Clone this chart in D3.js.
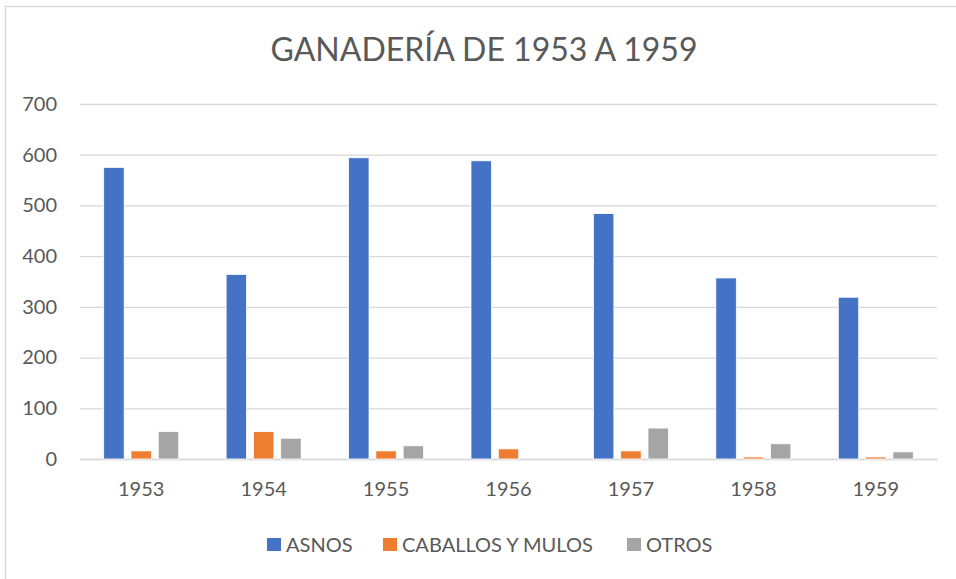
<!DOCTYPE html>
<html>
<head>
<meta charset="utf-8">
<script src="https://cdn.jsdelivr.net/npm/d3@7"></script>
<style>
  body { margin: 0; background: #fff; }
  text { font-family: Lato, "Open Sans", sans-serif; fill: #595959; }
</style>
</head>
<body>
<div id="chart"></div>
<script>
var years = ["1953", "1954", "1955", "1956", "1957", "1958", "1959"];
var series = ["ASNOS", "CABALLOS Y MULOS", "OTROS"];
var asnos = [575, 364, 594, 588, 484, 357, 319];
var caballos = [16, 54, 16, 20, 16, 4, 4];
var otros = [54, 41, 26, 0, 61, 30, 14];
var yTicks = [0, 100, 200, 300, 400, 500, 600, 700];
var colors = ["#4472c4", "#ed7d31", "#a5a5a5"];

var data = years.map(function (y, i) {
  return { year: y, values: [asnos[i], caballos[i], otros[i]] };
});

// set the dimensions and margins of the graph
var W = 956, H = 579;
var margin = {top: 104, right: 19, bottom: 120, left: 80},
  width = W - margin.left - margin.right,
  height = H - margin.top - margin.bottom;

var root = d3.select("#chart")
  .append("svg")
    .attr("width", W)
    .attr("height", H);

// chart frame
root.append("rect")
  .attr("x", 5.5).attr("y", 6.5)
  .attr("width", W).attr("height", H)
  .style("fill", "none")
  .style("stroke", "#d9d9d9")
  .style("stroke-width", 1.5);

root.append("text")
  .attr("x", 484).attr("y", 61)
  .attr("text-anchor", "middle")
  .style("font-size", "32px")
  .text("GANADERÍA DE 1953 A 1959");

var svg = root.append("g")
  .attr("transform", "translate(" + margin.left + "," + margin.top + ")");

var y = d3.scaleLinear()
  .domain([0, 700])
  .range([height, 0]);

var x0 = d3.scaleBand()
  .domain(years)
  .range([0, width])
  .paddingInner(0.387)
  .paddingOuter(0.1935);

var x1 = d3.scaleBand()
  .domain(d3.range(series.length))
  .range([0, x0.bandwidth()])
  .paddingInner(0.25);

// gridlines + y labels
var yAxis = svg.append("g")
  .call(d3.axisLeft(y).tickValues(yTicks).tickSize(-width).tickPadding(23));
yAxis.select(".domain").remove();
yAxis.selectAll(".tick line").style("stroke", "#d9d9d9").style("stroke-width", 1.3);
yAxis.selectAll(".tick text")
  .style("font-size", "20px")
  .style("fill", "#595959")
  .attr("font-family", null);

// x labels
var xAxis = svg.append("g")
  .attr("transform", "translate(0," + height + ")")
  .call(d3.axisBottom(x0).tickSize(0).tickPadding(23));
xAxis.select(".domain").style("stroke", "#d9d9d9").style("stroke-width", 1.3);
xAxis.selectAll(".tick text")
  .style("font-size", "20px")
  .style("fill", "#595959")
  .attr("font-family", null);

// bars
var groups = svg.append("g")
  .selectAll("g")
  .data(data)
  .enter()
  .append("g")
    .attr("transform", function (d) { return "translate(" + x0(d.year) + ",0)"; });

groups.selectAll("rect")
  .data(function (d) { return d.values; })
  .enter()
  .append("rect")
    .attr("x", function (d, i) { return x1(i); })
    .attr("y", function (d) { return y(d); })
    .attr("width", x1.bandwidth())
    .attr("height", function (d) { return height - y(d); })
    .style("fill", function (d, i) { return colors[i]; })
    .style("stroke", "#fff")
    .style("stroke-width", 0.8)
    .style("display", function (d) { return d > 0 ? null : "none"; });

// Handmade legend
var legendX = [267, 383, 627];
var legend = root.append("g");
series.forEach(function (s, i) {
  legend.append("rect")
    .attr("x", legendX[i]).attr("y", 538)
    .attr("width", 14).attr("height", 13)
    .style("fill", colors[i]);
  legend.append("text")
    .attr("x", legendX[i] + 19).attr("y", 552)
    .style("font-size", "20px")
    .text(s);
});
</script>
</body>
</html>
